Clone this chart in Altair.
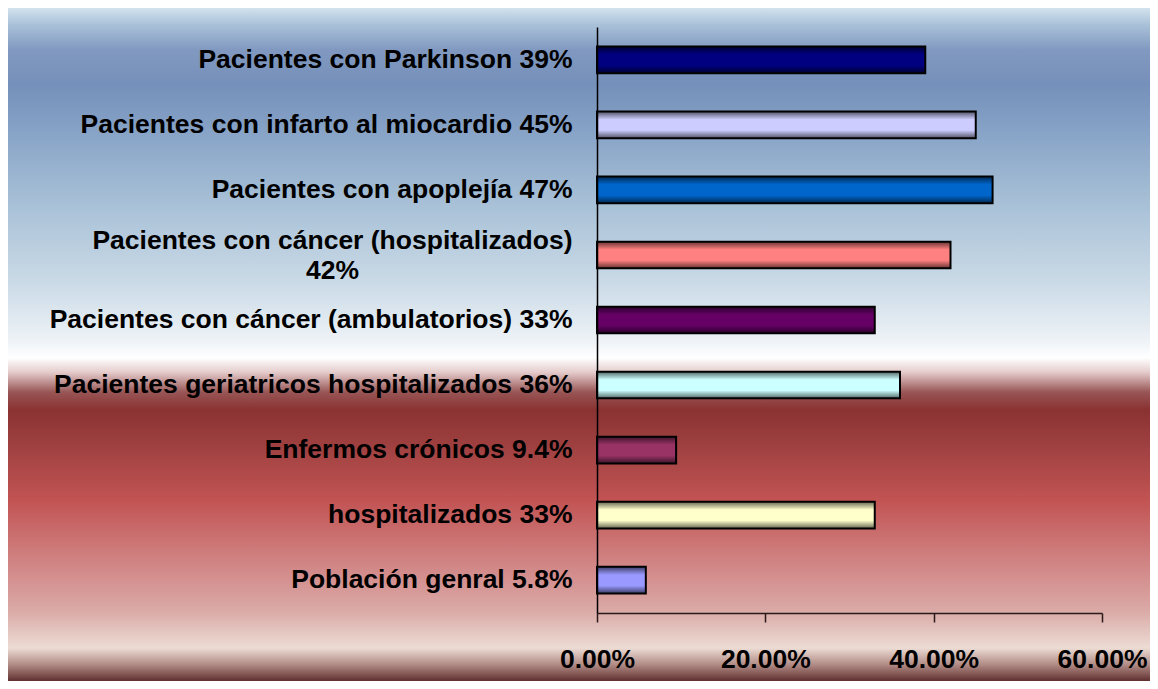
import altair as alt
import pandas as pd

# ---- data ----
categories = [
    "Pacientes con Parkinson 39%",
    "Pacientes con infarto al miocardio 45%",
    "Pacientes con apoplejía 47%",
    "Pacientes con cáncer (hospitalizados)|42%",
    "Pacientes con cáncer (ambulatorios) 33%",
    "Pacientes geriatricos hospitalizados 36%",
    "Enfermos crónicos 9.4%",
    "hospitalizados 33%",
    "Población genral 5.8%",
]
values = [0.39, 0.45, 0.47, 0.42, 0.33, 0.36, 0.094, 0.33, 0.058]
bar_colors = ["#000080", "#ccccff", "#0066cc", "#ff8080", "#660066",
              "#ccffff", "#993366", "#ffffcc", "#9999ff"]
tick_values = [0.0, 0.2, 0.4, 0.6]

df = pd.DataFrame({"cat": categories, "value": values})

W, H = 505, 586
PAD = {"left": 589, "top": 19, "right": 48, "bottom": 68}
FONT = "Liberation Sans"

# second line of the wrapped label is centred under the first line:
# pad it with no-break spaces, closed by a zero-width space so they are not trimmed
pad = "\u00a0" * 29 + "\u200b"
label_expr = (
    "indexof(datum.label, '|') >= 0 ? "
    "[split(datum.label, '|')[0], split(datum.label, '|')[1] + '" + pad + "'] : datum.label"
)

# background gradient (decoration)
bg_stops = [
    (0.000, "#d3e2ee"), (0.025, "#a9c1d8"), (0.062, "#8199c0"), (0.114, "#7590ba"),
    (0.181, "#86a2c6"), (0.285, "#a6bfd6"), (0.404, "#c9d9e6"), (0.493, "#edf2f6"),
    (0.520, "#ffffff"), (0.541, "#e5cccc"), (0.571, "#985555"), (0.597, "#8a3232"),
    (0.657, "#a24242"), (0.731, "#c25353"), (0.820, "#d08282"), (0.895, "#daa9a6"),
    (0.951, "#ecdcd4"), (0.976, "#b08a84"), (1.000, "#603030"),
]
bg = alt.Chart(alt.Data(values=[{}])).mark_rect(
    fill=alt.Gradient(
        gradient="linear",
        stops=[alt.GradientStop(offset=o, color=c) for o, c in bg_stops],
        x1=0, x2=0, y1=0, y2=1,
    ),
    stroke=None,
).encode(
    x=alt.value(-PAD["left"]), x2=alt.value(W + PAD["right"]),
    y=alt.value(-PAD["top"]), y2=alt.value(H + PAD["bottom"]),
)

x_enc = alt.X(
    "value:Q",
    scale=alt.Scale(domain=[0, 0.6], nice=False),
    axis=alt.Axis(
        title=None, format=".2%", values=tick_values, grid=False, zindex=1,
        labelFont=FONT, labelFontSize=26.5, labelFontWeight="bold", labelColor="#000000",
        labelPadding=24, tickSize=9, tickColor="#2a1a1a", tickWidth=1.5,
        domainColor="#2a1a1a", domainWidth=1.5, labelFlush=False,
    ),
)
y_enc = alt.Y(
    "cat:N", sort=categories,
    scale=alt.Scale(paddingInner=0.59, paddingOuter=0.3),
    axis=alt.Axis(
        title=None, ticks=False, grid=False, labelExpr=label_expr, zindex=1,
        labelFont=FONT, labelFontSize=26.5, labelFontWeight="bold", labelColor="#000000",
        labelPadding=25, labelLimit=0, labelLineHeight=30, labelBaseline="middle",
        labelOffset={"condition": {"test": "indexof(datum.value, '|') >= 0", "value": -14},
                     "value": 0},
        domainColor="#000000", domainWidth=1.5,
    ),
)

bars = alt.Chart(df).mark_bar(stroke=None).encode(
    x=x_enc, y=y_enc,
    color=alt.Color("cat:N", scale=alt.Scale(domain=categories, range=bar_colors), legend=None),
)

shade = alt.Chart(df).mark_bar(
    fill=alt.Gradient(
        gradient="linear",
        stops=[
            alt.GradientStop(offset=0.0, color="rgba(0,0,0,0.6)"),
            alt.GradientStop(offset=0.3, color="rgba(0,0,0,0.0)"),
            alt.GradientStop(offset=0.7, color="rgba(0,0,0,0.0)"),
            alt.GradientStop(offset=1.0, color="rgba(0,0,0,0.6)"),
        ],
        x1=0, x2=0, y1=0, y2=1,
    ),
    stroke="#000000", strokeWidth=2,
).encode(x=x_enc, y=y_enc)

chart = alt.layer(bg, bars, shade).properties(
    width=W, height=H,
    autosize=alt.AutoSizeParams(type="none"),
    padding=PAD,
    background="white",
).configure_view(stroke=None)

chart.save("out.html", embed_options={"renderer": "svg", "actions": False})
